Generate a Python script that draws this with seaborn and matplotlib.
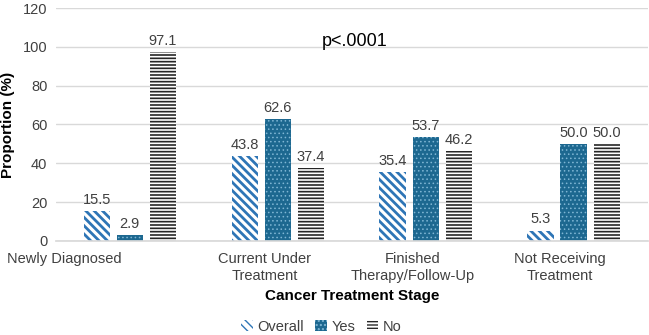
import matplotlib
matplotlib.use("Agg")
import matplotlib.pyplot as plt
import seaborn as sns
import pandas as pd
from matplotlib.patches import Patch

categories = ["Newly Diagnosed", "Current Under\nTreatment", "Finished\nTherapy/Follow-Up", "Not Receiving\nTreatment"]
series = ["Overall", "Yes", "No"]
overall = [15.5, 43.8, 35.4, 5.3]
yes = [2.9, 62.6, 53.7, 50.0]
no = [97.1, 37.4, 46.2, 50.0]
yticks = [0, 20, 40, 60, 80, 100, 120]
label_offsets = [-0.44, -0.09, -0.09, -0.095]

sns.set_theme(style="white")
plt.rcParams['font.family'] = ['Liberation Sans', 'DejaVu Sans']

rows = []
for s, vals in zip(series, [overall, yes, no]):
    for c, v in zip(categories, vals):
        rows.append({"cat": c, "series": s, "val": v})
df = pd.DataFrame(rows)

fig = plt.figure(figsize=(6.49, 3.35), dpi=100)
ax = fig.add_axes([0.086, 0.281, 0.912, 0.695])

styles = {
    "Overall": dict(face="white", edge="#2e75b6", hatch="\\" * 4, lw=2.0),
    "Yes": dict(face="#1d6890", edge="#7fb6d4", hatch="....", lw=0.6),
    "No": dict(face="white", edge="#262626", hatch="-----", lw=1.2),
}
palette = {s: styles[s]["face"] for s in series}
sns.barplot(data=df, x="cat", y="val", hue="series", hue_order=series, order=categories,
            palette=palette, width=0.67, gap=0.2, ax=ax, legend=False, saturation=1)

def style_patch(p, st):
    p.set_facecolor(st["face"])
    p.set_edgecolor(st["edge"])
    p.set_hatch(st["hatch"])
    p.set_linewidth(0)
    if hasattr(p, "set_hatch_linewidth"):
        p.set_hatch_linewidth(st["lw"])
    else:
        p._hatch_linewidth = st["lw"]

for cont, s in zip(ax.containers, series):
    for p in cont:
        style_patch(p, styles[s])
    ax.bar_label(cont, fmt="%.1f", padding=3, fontsize=10.5, color="#404040")

ax.set_ylim(0, 120)
ax.set_xlim(-0.5, 3.5)
ax.set_yticks(yticks)
ax.yaxis.grid(True, color="#d9d9d9", linewidth=1)
ax.set_axisbelow(True)
for sp in ["left", "right", "top"]:
    ax.spines[sp].set_visible(False)
ax.spines["bottom"].set_color("#d9d9d9")

ax.set_xticks([i + o for i, o in enumerate(label_offsets)])
ax.set_xticklabels(categories, linespacing=1.3)
ax.tick_params(axis="both", length=0, labelsize=10.5, colors="#404040")
ax.tick_params(axis="y", pad=6)
ax.tick_params(axis="x", pad=8)
ax.set_xlabel("Cancer Treatment Stage", fontsize=11, fontweight="bold", color="black", labelpad=4)
ax.set_ylabel("Proportion (%)", fontsize=11, fontweight="bold", color="black", labelpad=6)

ax.text(1.52, 103, "p<.0001", fontsize=13, color="black", ha="center", va="center")

handles = []
for s in series:
    h = Patch(label=s)
    style_patch(h, styles[s])
    handles.append(h)
fig.legend(handles=handles, loc="center", ncol=3, frameon=False, fontsize=10.5,
           bbox_to_anchor=(0.495, 0.025), handlelength=0.8, handleheight=0.8,
           columnspacing=0.8, handletextpad=0.3, labelcolor="#404040")

fig.savefig("out.png", dpi=100)
